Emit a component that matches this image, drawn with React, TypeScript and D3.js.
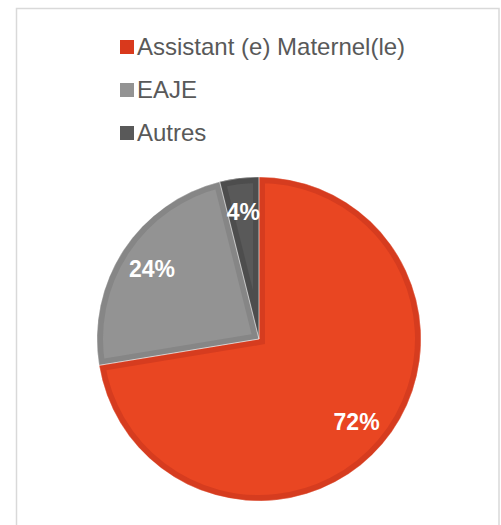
import { useEffect, useRef } from 'react'
import * as d3 from 'd3'

const categories = ['Assistant (e) Maternel(le)', 'EAJE', 'Autres']
const values = [72.4, 23.7, 3.9]
const labels = ['72%', '24%', '4%']
const fills = ['#E94622', '#939393', '#595959']
const borders = ['#D63C1F', '#868686', '#4D4D4D']

export default function App() {
  const ref = useRef<SVGSVGElement>(null)

  useEffect(() => {
    const el = ref.current
    if (!el) return
    const svg = d3.select(el)
    svg.selectAll('*').remove()

    const font = 'Liberation Sans, Arial, sans-serif'

    // chart frame
    svg
      .append('rect')
      .attr('x', 16.5)
      .attr('y', 8.5)
      .attr('width', 482.5)
      .attr('height', 530)
      .attr('fill', '#fff')
      .attr('stroke', '#d9d9d9')
      .attr('stroke-width', 1.5)

    // legend
    const lg = svg.append('g').attr('transform', 'translate(120,40)')
    const rows = lg
      .selectAll('g')
      .data(categories)
      .join('g')
      .attr('transform', (_, i) => `translate(0,${i * 43})`)
    rows
      .append('rect')
      .attr('width', 14)
      .attr('height', 14)
      .attr('fill', (_, i) => (i === 0 ? '#D9391C' : fills[i]))
    rows
      .append('text')
      .attr('x', 17)
      .attr('y', 15)
      .attr('font-family', font)
      .attr('font-size', 24)
      .attr('fill', '#595959')
      .text((d) => d)

    // pie
    const cx = 259
    const cy = 339
    const r = 162
    const pie = d3.pie<number>().sort(null).value((d) => d)
    const arcs = pie(values)
    const arc = d3.arc<d3.PieArcDatum<number>>().innerRadius(0).outerRadius(r)
    const g = svg.append('g').attr('transform', `translate(${cx},${cy})`)

    const defs = svg.append('defs')
    arcs.forEach((a, i) => {
      defs
        .append('clipPath')
        .attr('id', `slice-${i}`)
        .append('path')
        .attr('d', arc(a) as string)
    })

    g.selectAll('path.slice')
      .data(arcs)
      .join('path')
      .attr('class', 'slice')
      .attr('d', (d) => arc(d) as string)
      .attr('fill', (_, i) => fills[i])
      .attr('stroke', (_, i) => borders[i])
      .attr('stroke-width', 12)
      .attr('stroke-linejoin', 'miter')
      .attr('clip-path', (_, i) => `url(#slice-${i})`)

    g.selectAll('path.sep')
      .data(arcs)
      .join('path')
      .attr('class', 'sep')
      .attr('d', (d) => arc(d) as string)
      .attr('fill', 'none')
      .attr('stroke', '#fff')
      .attr('stroke-width', 0.6)
      .attr('stroke-opacity', 0.6)

    const labelArc = d3.arc<d3.PieArcDatum<number>>().innerRadius(256).outerRadius(0)
    g.selectAll('text.lbl')
      .data(arcs)
      .join('text')
      .attr('class', 'lbl')
      .attr('transform', (d) => {
        const [x, y] = labelArc.centroid(d)
        return `translate(${x},${y})`
      })
      .attr('text-anchor', 'middle')
      .attr('dy', '0.36em')
      .attr('font-family', font)
      .attr('font-weight', 'bold')
      .attr('font-size', 23)
      .attr('fill', '#fff')
      .text((_, i) => labels[i])
  }, [])

  return (
    <svg
      ref={ref}
      width={501}
      height={525}
      style={{ position: 'absolute', left: 0, top: 0 }}
    />
  )
}
